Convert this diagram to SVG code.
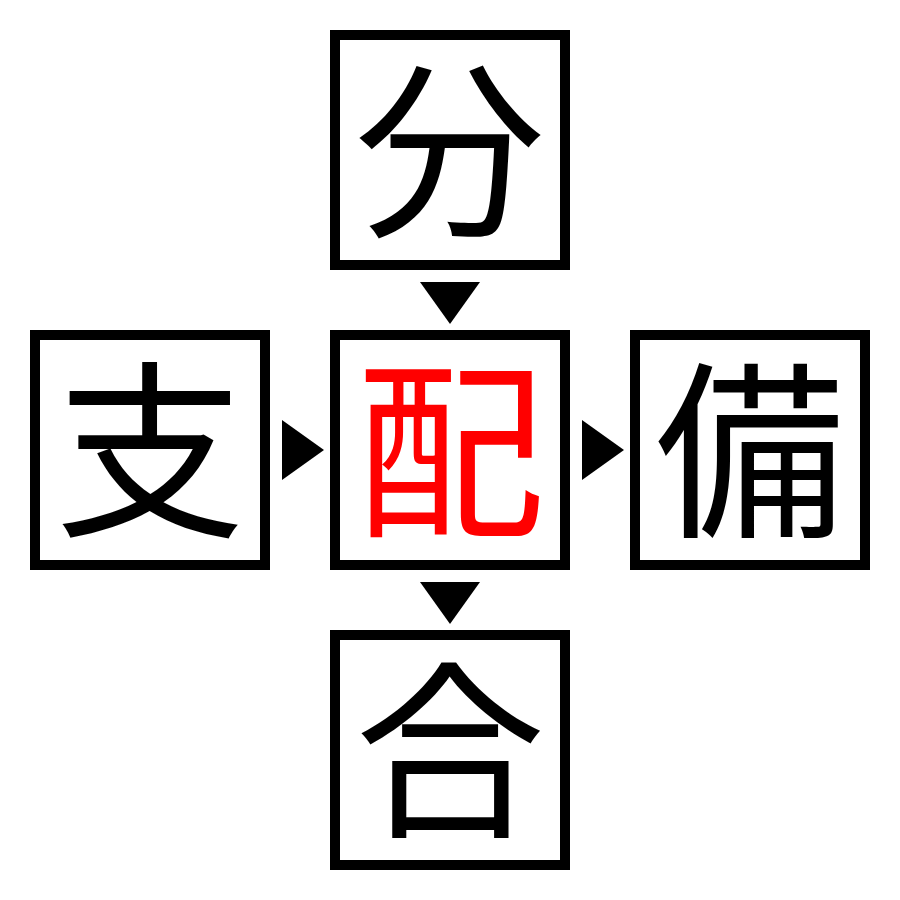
<svg xmlns="http://www.w3.org/2000/svg" width="900" height="900" viewBox="0 0 900 900">
<style>
.box{fill:#fff;stroke:#000;stroke-width:10}
.ch{font-family:"Noto Sans CJK JP","Noto Sans CJK SC",sans-serif;font-size:190px;text-anchor:middle;fill:#000}
.red{fill:#ff0000}
.arr{fill:#000}
</style>
<rect width="900" height="900" fill="#fff"/>
<g id="node-top"><rect class="box" x="335" y="35" width="230" height="230"/><text class="ch" x="450" y="222">分</text></g>
<g id="node-left"><rect class="box" x="35" y="335" width="230" height="230"/><text class="ch" x="150" y="522">支</text></g>
<g id="node-center"><rect class="box" x="335" y="335" width="230" height="230"/><text class="ch red" x="450" y="522">配</text></g>
<g id="node-right"><rect class="box" x="635" y="335" width="230" height="230"/><text class="ch" x="750" y="522">備</text></g>
<g id="node-bottom"><rect class="box" x="335" y="635" width="230" height="230"/><text class="ch" x="450" y="822">合</text></g>
<g id="connectors">
<polygon class="arr" points="420,282 480,282 450,324"/>
<polygon class="arr" points="282,420 282,480 324,450"/>
<polygon class="arr" points="582,420 582,480 624,450"/>
<polygon class="arr" points="420,582 480,582 450,624"/>
</g>
</svg>
